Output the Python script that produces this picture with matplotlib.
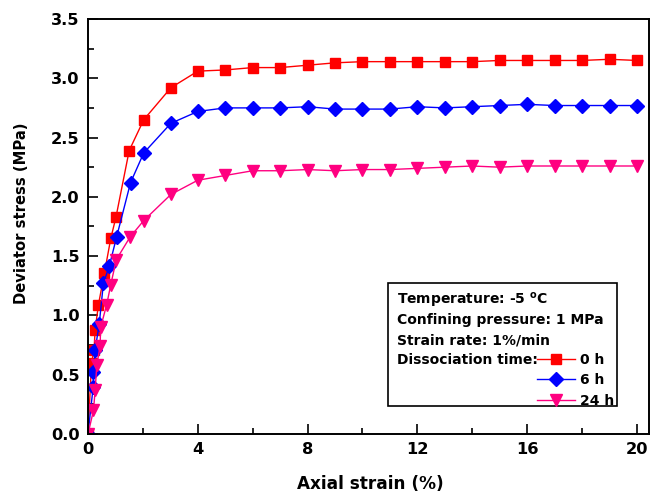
import matplotlib
matplotlib.use("Agg")
import matplotlib.pyplot as plt
from matplotlib.patches import Rectangle
from matplotlib.ticker import MultipleLocator, FormatStrFormatter

plt.rcParams['font.family'] = ['DejaVu Sans']
plt.rcParams['font.weight'] = 'bold'
plt.rcParams['mathtext.default'] = 'bf'

# strain (%) / deviator stress (MPa)
strain_0h = [0, 0.13, 0.22, 0.26, 0.38, 0.6, 0.83, 1.02, 1.5, 2.03, 3.02,
             4, 5, 6, 7, 8, 9, 10, 11, 12, 13, 14, 15, 16, 17, 18, 19, 20]
stress_0h = [0, 0.60, 0.71, 0.88, 1.09, 1.36, 1.65, 1.83, 2.39, 2.65, 2.92,
             3.06, 3.07, 3.09, 3.09, 3.11, 3.13, 3.14, 3.14, 3.14, 3.14, 3.14,
             3.15, 3.15, 3.15, 3.15, 3.16, 3.15]

strain_6h = [0, 0.19, 0.2, 0.26, 0.41, 0.56, 0.78, 1.04, 1.55, 2.03, 3.02,
             4, 5, 6, 7, 8, 9, 10, 11, 12, 13, 14, 15, 16, 17, 18, 19, 20]
stress_6h = [0, 0.40, 0.52, 0.71, 0.93, 1.27, 1.42, 1.66, 2.12, 2.37, 2.62,
             2.72, 2.75, 2.75, 2.75, 2.76, 2.74, 2.74, 2.74, 2.76, 2.75, 2.76,
             2.77, 2.78, 2.77, 2.77, 2.77, 2.77]

strain_24h = [0, 0.2, 0.26, 0.32, 0.44, 0.46, 0.68, 0.83, 1.03, 1.53, 2.03, 3.02,
              4, 5, 6, 7, 8, 9, 10, 11, 12, 13, 14, 15, 16, 17, 18, 19, 20]
stress_24h = [0, 0.20, 0.37, 0.58, 0.74, 0.90, 1.09, 1.26, 1.47, 1.66, 1.80, 2.02,
              2.14, 2.18, 2.22, 2.22, 2.23, 2.22, 2.23, 2.23, 2.24, 2.25, 2.26,
              2.25, 2.26, 2.26, 2.26, 2.26, 2.26]

info_lines = ["Temperature: -5 $^{o}$C",
              "Confining pressure: 1 MPa",
              "Strain rate: 1%/min",
              "Dissociation time:"]

fig = plt.figure(figsize=(6.5, 4.99), dpi=100)
ax = fig.add_axes([0.1354, 0.1303, 0.8631, 0.8317])

ax.plot(strain_0h, stress_0h, color='#ff0000', marker='s', markersize=7,
        linewidth=1, label='0 h')
ax.plot(strain_6h, stress_6h, color='#0000ff', marker='D', markersize=7,
        linewidth=1, label='6 h')
ax.plot(strain_24h, stress_24h, color='#ff0080', marker='v', markersize=8.5,
        linewidth=1, label='24 h')

ax.set_xlim(0, 20.44)
ax.set_ylim(0, 3.5)
ax.xaxis.set_major_locator(MultipleLocator(4))
ax.xaxis.set_minor_locator(MultipleLocator(2))
ax.yaxis.set_major_locator(MultipleLocator(0.5))
ax.yaxis.set_minor_locator(MultipleLocator(0.25))
ax.yaxis.set_major_formatter(FormatStrFormatter('%.1f'))
ax.tick_params(which='both', direction='in', width=1.2, labelsize=11.7, pad=6)
ax.tick_params(which='major', length=7)
ax.tick_params(which='minor', length=4.5)
for sp in ax.spines.values():
    sp.set_linewidth(1.4)

ax.set_xlabel('Axial strain (%)', fontsize=12.2, fontweight='bold')
ax.set_ylabel('Deviator stress (MPa)', fontsize=10.6, fontweight='bold')
ax.xaxis.set_label_coords(0.504, -0.099)
ax.yaxis.set_label_coords(-0.106, 0.533)

# info box
ax.add_patch(Rectangle((0.535, 0.0675), 0.408, 0.2965, transform=ax.transAxes,
                       fill=False, edgecolor='black', linewidth=1.2, zorder=5))
for i, line in enumerate(info_lines):
    ax.text(0.551, 0.322 - i * 0.048, line, transform=ax.transAxes,
            fontsize=10, fontweight='bold', va='center', ha='left')

ax.legend(loc='upper left', bbox_to_anchor=(0.800, 0.195), frameon=False,
          handlelength=2.73, handletextpad=0.36, labelspacing=0.45,
          borderpad=0, borderaxespad=0, prop={'weight': 'bold', 'size': 10})

fig.savefig('out.png', dpi=100)
